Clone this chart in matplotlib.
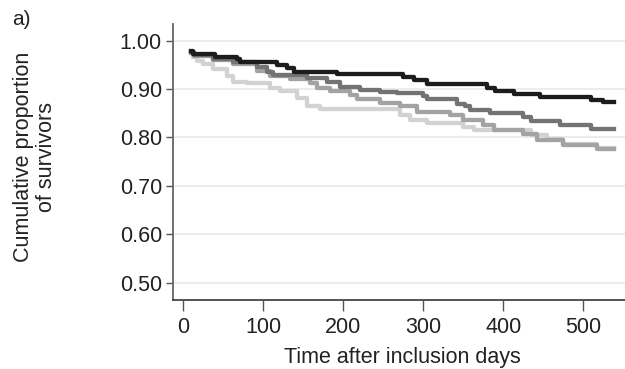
import matplotlib
matplotlib.use("Agg")
import matplotlib.pyplot as plt

plt.rcParams["font.family"] = ["Liberation Sans", "DejaVu Sans"]

# step curves: (day the step starts, survival from that day)
black_t = [10, 13, 40, 67, 71, 117, 130, 138, 192, 275, 288, 305, 380, 390, 413, 446, 509, 525, 538]
black_s = [0.979, 0.972, 0.967, 0.962, 0.955, 0.950, 0.944, 0.935, 0.931, 0.924, 0.918, 0.910, 0.903, 0.897, 0.890, 0.884, 0.878, 0.873, 0.873]

dark_t = [10, 14, 38, 63, 92, 105, 113, 155, 180, 196, 221, 246, 267, 300, 305, 342, 352, 359, 384, 425, 434, 471, 509, 538]
dark_s = [0.977, 0.970, 0.962, 0.955, 0.946, 0.936, 0.929, 0.922, 0.914, 0.905, 0.898, 0.893, 0.891, 0.885, 0.879, 0.870, 0.864, 0.857, 0.850, 0.842, 0.833, 0.826, 0.818, 0.818]

mid_t = [10, 14, 38, 63, 92, 109, 134, 159, 167, 184, 209, 217, 246, 271, 292, 334, 350, 375, 388, 425, 442, 475, 517, 538]
mid_s = [0.975, 0.968, 0.961, 0.952, 0.938, 0.926, 0.921, 0.912, 0.902, 0.895, 0.887, 0.879, 0.871, 0.864, 0.853, 0.846, 0.836, 0.826, 0.815, 0.808, 0.795, 0.785, 0.776, 0.776]

light_t = [13, 17, 25, 38, 55, 63, 80, 109, 121, 142, 155, 171, 271, 284, 305, 350, 363, 434, 455, 475, 517, 538]
light_s = [0.967, 0.958, 0.952, 0.942, 0.926, 0.915, 0.912, 0.902, 0.895, 0.882, 0.866, 0.858, 0.847, 0.836, 0.829, 0.822, 0.815, 0.805, 0.797, 0.787, 0.778, 0.778]

x_ticks = [0, 100, 200, 300, 400, 500]
y_ticks = [0.5, 0.6, 0.7, 0.8, 0.9, 1.0]
y_labels = ["0.50", "0.60", "0.70", "0.80", "0.90", "1.00"]

fig = plt.figure(figsize=(6.25, 3.69), dpi=100)
ax = fig.add_axes([173 / 625, 1 - 300 / 369, 1 - 173 / 625, (300 - 24) / 369])

fs = 15.5
lw = 3.1
ax.step(light_t, light_s, where="post", color="#d2d2d2", lw=lw)
ax.step(mid_t, mid_s, where="post", color="#a3a3a3", lw=lw)
ax.step(dark_t, dark_s, where="post", color="#737373", lw=lw)
ax.step(black_t, black_s, where="post", color="#1c1c1c", lw=lw)

ax.set_xlim(-12.5, 552)
ax.set_ylim(0.464, 1.0345)
ax.set_xticks(x_ticks)
ax.set_yticks(y_ticks)
ax.set_yticklabels(y_labels)
ax.yaxis.grid(True, color="#ebebeb", lw=1.3)
ax.set_axisbelow(True)

for side in ["top", "right"]:
    ax.spines[side].set_visible(False)
ax.spines["left"].set_color("#666666")
ax.spines["bottom"].set_color("#444444")
for side in ["left", "bottom"]:
    ax.spines[side].set_linewidth(1.3)

ax.tick_params(axis="y", length=5, width=1, color="#555555", labelsize=fs, labelcolor="#222222", pad=3)
ax.tick_params(axis="x", length=8, width=1, color="#555555", labelsize=fs, labelcolor="#222222", pad=4)

fig.text(12 / 625, 1 - 25 / 369, "a)", fontsize=fs - 0.5, color="#222222", ha="left", va="baseline")
fig.text(35 / 625, 1 - 157 / 369, "Cumulative proportion\nof survivors", rotation=90,
         ha="center", va="center", multialignment="center", fontsize=fs, color="#222222",
         linespacing=1.15)
fig.text(402 / 625, 1 - 358 / 369, "Time after inclusion days", ha="center", va="center",
         fontsize=fs, color="#222222")

fig.savefig("out.png", dpi=100)
